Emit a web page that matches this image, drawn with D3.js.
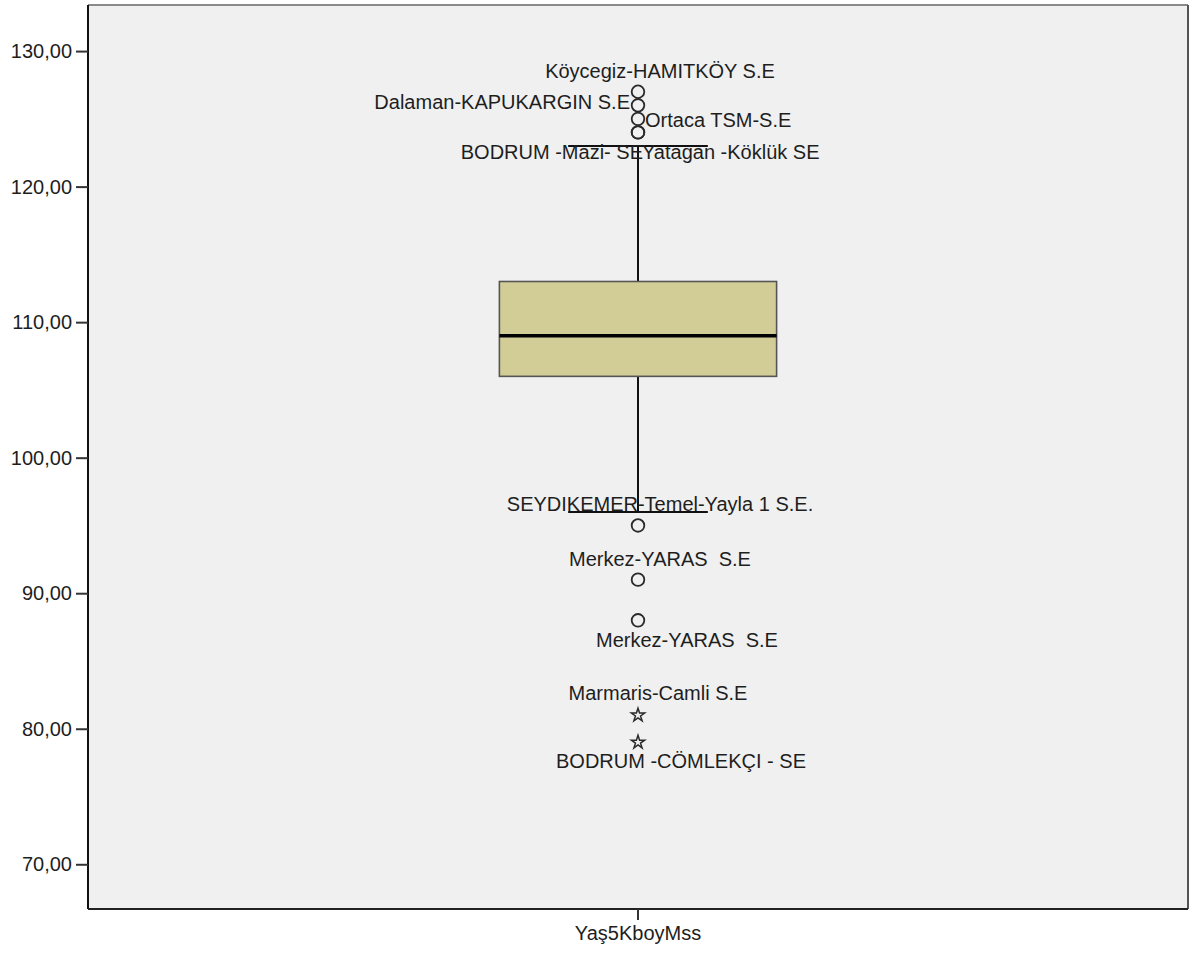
<!DOCTYPE html>
<html>
<head>
<meta charset="utf-8">
<script src="https://cdn.jsdelivr.net/npm/d3@7"></script>
<style>
  body { margin: 0; background: #fff; }
  svg text { font-family: "Liberation Sans", Arial, sans-serif; fill: #1e1e1e; white-space: pre; }
</style>
</head>
<body>
<svg width="1190" height="956"></svg>
<script>
// values
const variableNames = ['Yaş5KboyMss'];
const yTicks = [70, 80, 90, 100, 110, 120, 130];
const yDomain = [66.7, 133.4];

const whiskerLow = 96;
const quartile1 = 106;
const median = 109;
const quartile3 = 113;
const whiskerHigh = 123;

const outlierValues = [127, 126, 125, 124, 124, 95, 91, 88];
const outlierLabels = [
  'Köycegiz-HAMITKÖY S.E',
  'Dalaman-KAPUKARGIN S.E',
  'Ortaca TSM-S.E',
  'BODRUM -Mazi- SE',
  'Yatagan -Köklük SE',
  'SEYDIKEMER-Temel-Yayla 1 S.E.',
  'Merkez-YARAS  S.E',
  'Merkez-YARAS  S.E'
];
const extremeValues = [81, 79];
const extremeLabels = ['Marmaris-Camli S.E', 'BODRUM -CÖMLEKÇI - SE'];

// where SPSS put each label relative to its point: [anchor, dx, dy]
const outlierLabelPlace = [
  ['middle', 22, -21],
  ['end', -8, -3],
  ['start', 7, 1],
  ['end', 5, 20],
  ['start', 4, 20],
  ['middle', 22, -21],
  ['middle', 22, -21],
  ['middle', 49, 20]
];
const extremeLabelPlace = [
  ['middle', 20, -22],
  ['middle', 43, 19]
];

const svg = d3.select('svg');
const plotLeft = 88, plotRight = 1188, plotTop = 5, plotBottom = 909;
const fontSize = 20;

const x = d3.scaleBand().domain(variableNames).range([plotLeft, plotRight]);
const y = d3.scaleLinear().domain(yDomain).range([plotBottom, plotTop]);

const fmt = (v) => d3.format('.2f')(v).replace('.', ',');

// plot background
svg.append('rect')
  .attr('x', plotLeft).attr('y', plotTop)
  .attr('width', plotRight - plotLeft).attr('height', plotBottom - plotTop)
  .attr('fill', '#f0f0f0');

// frame: top and right in grey
svg.append('line')
  .attr('x1', plotLeft).attr('x2', plotRight).attr('y1', plotTop).attr('y2', plotTop)
  .attr('stroke', '#8a8a8a').attr('stroke-width', 2);
svg.append('line')
  .attr('x1', plotRight).attr('x2', plotRight).attr('y1', plotTop).attr('y2', plotBottom)
  .attr('stroke', '#555').attr('stroke-width', 2);

const yAxis = svg.append('g')
  .attr('transform', `translate(${plotLeft},0)`)
  .call(d3.axisLeft(y).tickValues(yTicks).tickSize(12).tickPadding(4).tickFormat(fmt));
yAxis.select('.domain').attr('stroke', '#111').attr('stroke-width', 2)
  .attr('d', `M0,${plotTop}V${plotBottom}`);
yAxis.selectAll('.tick line').attr('stroke', '#333').attr('stroke-width', 2);
yAxis.selectAll('.tick text').attr('font-size', fontSize);
yAxis.attr('font-family', null);

const xAxis = svg.append('g')
  .attr('transform', `translate(0,${plotBottom})`)
  .call(d3.axisBottom(x).tickSize(11).tickPadding(6));
xAxis.select('.domain').attr('stroke', '#222').attr('stroke-width', 2)
  .attr('d', `M${plotLeft},0H${plotRight}`);
xAxis.selectAll('.tick line').attr('stroke', '#333').attr('stroke-width', 2);
xAxis.selectAll('.tick text').attr('font-size', fontSize);
xAxis.attr('font-family', null);

const cx = x(variableNames[0]) + x.bandwidth() / 2;
const boxW = x.bandwidth() * 0.252;
const capW = x.bandwidth() * 0.127;

// whiskers
const plot = svg.append('g');
plot.append('line')
  .attr('x1', cx).attr('x2', cx)
  .attr('y1', y(whiskerHigh)).attr('y2', y(quartile3))
  .attr('stroke', '#111').attr('stroke-width', 2);
plot.append('line')
  .attr('x1', cx).attr('x2', cx)
  .attr('y1', y(quartile1)).attr('y2', y(whiskerLow))
  .attr('stroke', '#111').attr('stroke-width', 2);
plot.selectAll('line.cap')
  .data([whiskerHigh, whiskerLow])
  .enter().append('line')
  .attr('class', 'cap')
  .attr('x1', cx - capW / 2).attr('x2', cx + capW / 2)
  .attr('y1', (d) => y(d)).attr('y2', (d) => y(d))
  .attr('stroke', '#111').attr('stroke-width', 2);

// box
plot.append('rect')
  .attr('x', cx - boxW / 2).attr('width', boxW)
  .attr('y', y(quartile3)).attr('height', y(quartile1) - y(quartile3))
  .attr('fill', '#d2cd96')
  .attr('stroke', '#555').attr('stroke-width', 1.6);
plot.append('line')
  .attr('x1', cx - boxW / 2).attr('x2', cx + boxW / 2)
  .attr('y1', y(median)).attr('y2', y(median))
  .attr('stroke', '#000').attr('stroke-width', 3.5);

// outliers (circles)
plot.selectAll('circle.outlier')
  .data(outlierValues)
  .enter().append('circle')
  .attr('class', 'outlier')
  .attr('cx', cx).attr('cy', (d) => y(d))
  .attr('r', 6.3)
  .attr('fill', 'none').attr('stroke', '#2a2a2a').attr('stroke-width', 1.8);

// extremes (stars)
const star = d3.symbol().type(d3.symbolStar).size(55);
plot.selectAll('path.extreme')
  .data(extremeValues)
  .enter().append('path')
  .attr('class', 'extreme')
  .attr('d', star)
  .attr('transform', (d) => `translate(${cx},${y(d)})`)
  .attr('fill', 'none').attr('stroke', '#2a2a2a').attr('stroke-width', 1.5);

const labelData = outlierValues.map((v, i) => ({v, text: outlierLabels[i], place: outlierLabelPlace[i]}))
  .concat(extremeValues.map((v, i) => ({v, text: extremeLabels[i], place: extremeLabelPlace[i]})));

plot.selectAll('text.pointLabel')
  .data(labelData)
  .enter().append('text')
  .attr('class', 'pointLabel')
  .attr('x', (d) => cx + d.place[1])
  .attr('y', (d) => y(d.v) + d.place[2])
  .attr('dy', '0.35em')
  .attr('text-anchor', (d) => d.place[0])
  .attr('font-size', fontSize)
  .text((d) => d.text);
</script>
</body>
</html>
